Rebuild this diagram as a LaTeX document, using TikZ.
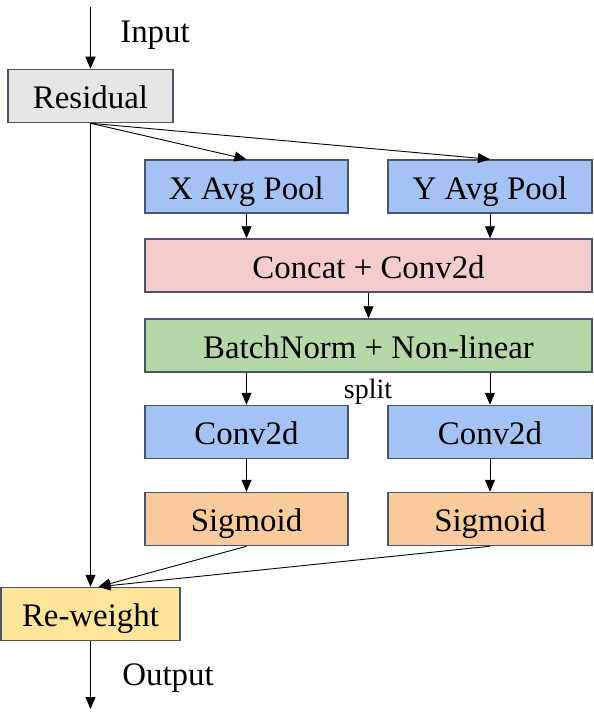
\documentclass[tikz,border=0pt]{standalone}
\usepackage{fontspec}
\setmainfont{Liberation Serif}
\usetikzlibrary{arrows.meta}
\definecolor{bordc}{HTML}{4A5668}
\definecolor{grayf}{HTML}{E7E6E6}
\definecolor{bluef}{HTML}{A4C2F4}
\definecolor{pinkf}{HTML}{F4CCCC}
\definecolor{greenf}{HTML}{B6D7A8}
\definecolor{orangef}{HTML}{F9CB9C}
\definecolor{yellowf}{HTML}{FFE599}
\tikzset{
  box/.style={draw=bordc, line width=1.5bp, minimum height=53bp, inner sep=0pt,
    text height=25bp, text depth=0bp,
    font=\fontsize{33}{38}\selectfont},
  arr/.style={-{Triangle[width=10bp,length=12bp]}, line width=0.9bp},
  lbl/.style={font=\fontsize{33}{38}\selectfont, inner sep=0pt, anchor=base},
}
\begin{document}
\begin{tikzpicture}[x=1bp,y=-1bp]
\useasboundingbox (0,0) rectangle (594,723);
\node[box, fill=grayf, minimum width=165bp] (res) at (90.5,96) {Residual};
\node[box, fill=bluef, minimum width=203bp] (xap) at (246.5,186.5) {X Avg Pool};
\node[box, fill=bluef, minimum width=204bp] (yap) at (490,186.5) {Y Avg Pool};
\node[box, fill=pinkf, minimum width=447bp] (cat) at (368.5,265.5) {Concat + Conv2d};
\node[box, fill=greenf, minimum width=447bp] (bn) at (368.5,345.5) {BatchNorm + Non-linear};
\node[box, fill=bluef, minimum width=203bp] (cl) at (246.5,432) {Conv2d};
\node[box, fill=bluef, minimum width=204bp] (cr) at (490,432) {Conv2d};
\node[box, fill=orangef, minimum width=203bp] (sl) at (246.5,519) {Sigmoid};
\node[box, fill=orangef, minimum width=204bp] (sr) at (490,519) {Sigmoid};
\node[box, fill=yellowf, minimum width=179bp] (rw) at (90.5,614) {Re-weight};
\coordinate (in) at (90.5,7);
\coordinate (out) at (90.5,709);
\node[lbl] (inl) at (155,43) {Input};
\node[lbl] (outl) at (168,685) {Output};
\node[lbl, font=\fontsize{28}{32}\selectfont] (spl) at (368,398) {split};
\draw[arr] (in) -- (res.north);
\draw[arr] (res.south) -- (xap.north);
\draw[arr] (res.south) -- (yap.north);
\draw[arr] (res.south) -- (rw.north);
\draw[arr] (xap.south) -- (xap.south |- cat.north);
\draw[arr] (yap.south) -- (yap.south |- cat.north);
\draw[arr] (cat.south) -- (bn.north);
\draw[arr] (cl.north |- bn.south) -- (cl.north);
\draw[arr] (cr.north |- bn.south) -- (cr.north);
\draw[arr] (cl.south) -- (sl.north);
\draw[arr] (cr.south) -- (sr.north);
\coordinate (rwin) at ([xshift=8bp]rw.north);
\draw[arr] (sl.south) -- (rwin);
\draw[arr] (sr.south) -- (rwin);
\draw[arr] (rw.south) -- (out);
\end{tikzpicture}
\end{document}
